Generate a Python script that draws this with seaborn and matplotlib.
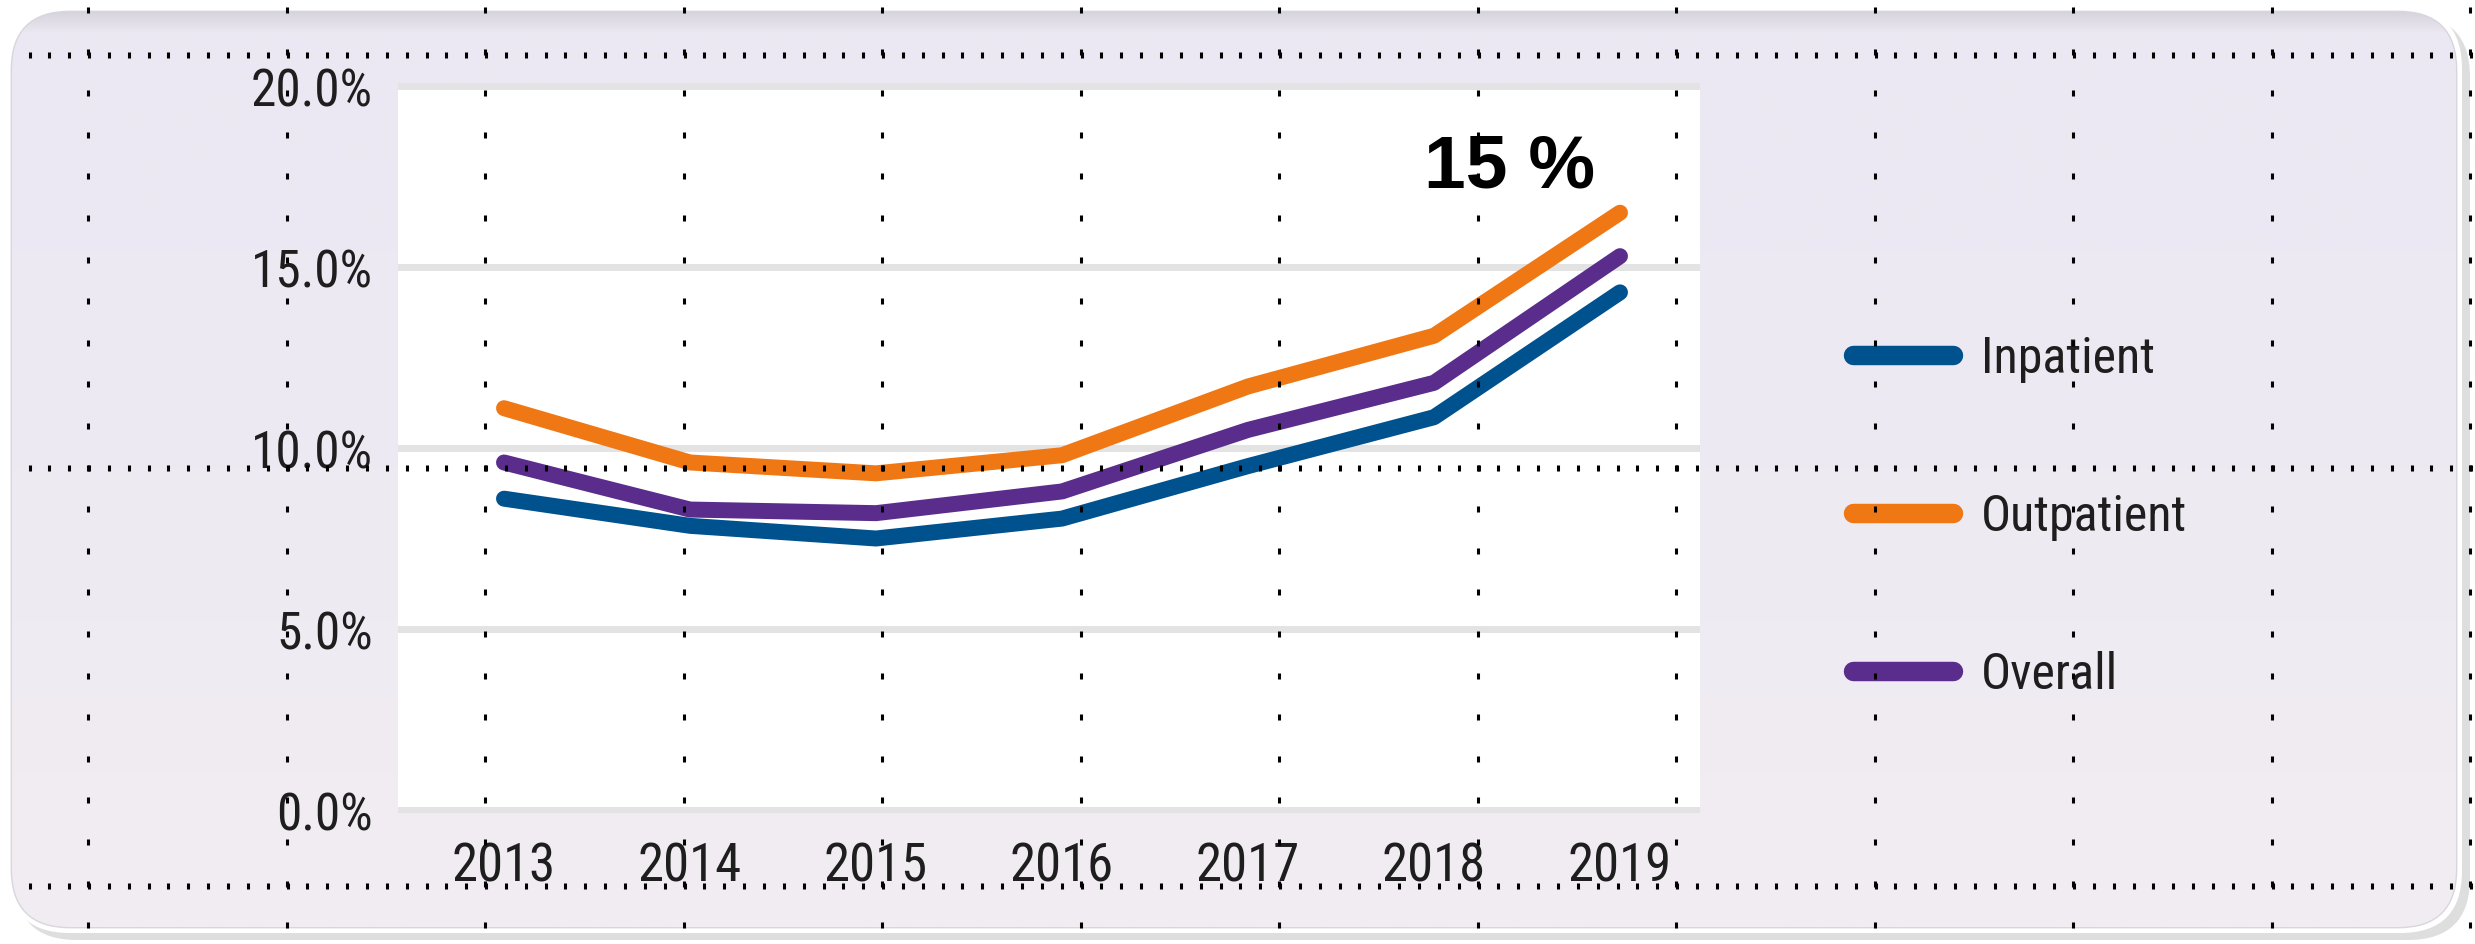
import numpy as np
import pandas as pd
import matplotlib
matplotlib.use("Agg")
import matplotlib.pyplot as plt
import seaborn as sns
from matplotlib import font_manager
from matplotlib.patches import FancyBboxPatch
from matplotlib.ticker import FuncFormatter, FixedLocator

# ---------------- data ----------------
years = [2013, 2014, 2015, 2016, 2017, 2018, 2019]
inpatient = [8.6, 7.85, 7.5, 8.05, 9.5, 10.85, 14.3]
outpatient = [11.1, 9.6, 9.3, 9.8, 11.7, 13.1, 16.5]
overall = [9.6, 8.3, 8.2, 8.8, 10.5, 11.8, 15.3]
series_names = ["Inpatient", "Outpatient", "Overall"]
series_colors = ["#00528F", "#F07814", "#5A2D8C"]
ytick_values = [0, 5, 10, 15, 20]
annotation_text = "15 %"

W, H, DPI = 2475, 945, 100

sns.set_theme(style="white")
names = {f.name for f in font_manager.fontManager.ttflist}
narrow = "DejaVu Sans"
for cand in ["Liberation Sans Narrow", "Roboto Condensed", "Open Sans Condensed"]:
    if cand in names:
        narrow = cand
        break
bold_family = "Liberation Sans" if "Liberation Sans" in names else "DejaVu Sans"
plt.rcParams["font.family"] = [narrow, "DejaVu Sans"]

df = pd.DataFrame({
    "year": years * 3,
    "value": inpatient + outpatient + overall,
    "series": [s for s in series_names for _ in years],
})
palette = dict(zip(series_names, series_colors))

fig = plt.figure(figsize=(W / DPI, H / DPI), dpi=DPI, facecolor="white")

# ---------------- background panel ----------------
bg = fig.add_axes([0, 0, 1, 1], zorder=-1)
bg.set_xlim(0, W)
bg.set_ylim(H, 0)
bg.axis("off")
shadow = FancyBboxPatch((15, 16), 2455, 925, boxstyle="round,pad=0,rounding_size=62",
                        facecolor="#DEDEDE", edgecolor="none")
bg.add_patch(shadow)
rim = FancyBboxPatch((8, 8), 2454, 926, boxstyle="round,pad=0,rounding_size=62",
                     facecolor="white", edgecolor="none")
bg.add_patch(rim)
panel = FancyBboxPatch((12, 13), 2444, 915, boxstyle="round,pad=0,rounding_size=58",
                       facecolor="#EEEAF3", edgecolor="#D8D5DD", linewidth=2)
bg.add_patch(panel)
ys = np.arange(13, 929)
stops_y = [13, 20, 34, 470, 928]
stops_c = np.array([[0xD7, 0xD4, 0xDD], [0xDE, 0xDB, 0xE4], [0xEC, 0xE8, 0xF3],
                    [0xEE, 0xEA, 0xF3], [0xF1, 0xED, 0xF1]]) / 255.0
grad = np.stack([np.interp(ys, stops_y, stops_c[:, i]) for i in range(3)], axis=-1)[:, None, :]
im = bg.imshow(grad, extent=(12, 2456, 928, 13), aspect="auto", interpolation="bilinear", zorder=2)
im.set_clip_path(panel)

# ---------------- main chart ----------------
ax_l, ax_r, ax_t, ax_b = 398, 1700, 84, 814
ax = fig.add_axes([ax_l / W, 1 - ax_b / H, (ax_r - ax_l) / W, (ax_b - ax_t) / H], zorder=1)
ax.set_facecolor("white")

sns.lineplot(data=df, x="year", y="value", hue="series", palette=palette,
             hue_order=series_names, linewidth=11.5, ax=ax, legend=True)
for ln in ax.lines:
    ln.set_solid_capstyle("round")
    ln.set_solid_joinstyle("round")

ax.set_xlim(2013 + (ax_l - 504) / 186.0, 2013 + (ax_r - 504) / 186.0)
ax.set_ylim((811 - ax_b) / 36.2, (811 - ax_t) / 36.2)
ax.yaxis.set_major_locator(FixedLocator(ytick_values))
ax.yaxis.set_major_formatter(FuncFormatter(lambda v, p: f"{v:.1f}%"))
ax.xaxis.set_major_locator(FixedLocator(years))
ax.xaxis.set_major_formatter(FuncFormatter(lambda v, p: f"{int(round(v))}"))
ax.grid(axis="y", color="#E3E3E3", linewidth=5)
ax.grid(axis="x", visible=False)
ax.set_axisbelow(True)
sns.despine(ax=ax, left=True, bottom=True, top=True, right=True)
ax.tick_params(axis="y", length=0, pad=18, labelsize=37, labelcolor="#1E1E1E")
ax.tick_params(axis="x", length=0, pad=20, labelsize=38, labelcolor="#1E1E1E")
ax.set_xlabel("")
ax.set_ylabel("")

ax.text(2013 + (1510 - 504) / 186.0, (811 - 188) / 36.2, annotation_text,
        fontsize=54, fontweight="bold", family=[bold_family, "DejaVu Sans"],
        ha="center", va="baseline", color="black", zorder=5)

handles, labels = ax.get_legend_handles_labels()
leg = ax.legend(handles, labels, loc="center left",
                bbox_to_anchor=(1853 / W, 1 - 517 / H), bbox_transform=fig.transFigure,
                frameon=False, fontsize=36, handlelength=2.0, handletextpad=0.55,
                labelspacing=2.2, borderpad=0, borderaxespad=0)
for h in leg.legend_handles:
    h.set_linewidth(14)
    h.set_solid_capstyle("round")
for t in leg.get_texts():
    t.set_color("#1E1E1E")

# ---------------- dotted overlay ----------------
ov = fig.add_axes([0, 0, 1, 1], zorder=10)
ov.set_xlim(0, W)
ov.set_ylim(H, 0)
ov.axis("off")
ov.patch.set_visible(False)
row_y = [56, 469, 887]
row_x = np.arange(29.5, 2472, 19.85)
for y in row_y:
    ov.plot(row_x, np.full_like(row_x, y), linestyle="none", marker="|",
            markersize=4.5, markeredgewidth=2.2, color="black")
col_x = 88 + 198.5 * np.arange(13)
col_y = np.arange(11, 930, 41.6)
for x in col_x:
    ov.plot(np.full_like(col_y, x), col_y, linestyle="none", marker="|",
            markersize=4.0, markeredgewidth=2.2, color="black")

fig.savefig("out.png", dpi=DPI, facecolor="white")
